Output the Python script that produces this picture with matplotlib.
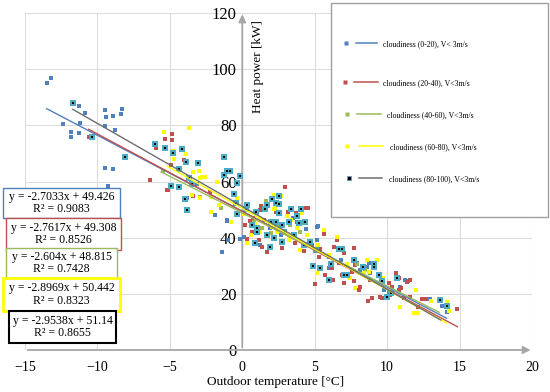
import matplotlib.pyplot as plt
import numpy as np
from matplotlib.lines import Line2D
from matplotlib.patches import Rectangle

# series: outdoor temperature [°C] vs heat power [kW]
blue_x = [-13.46, -13.2, -11.27, -10.88, -12.4, -11.2, -11.8, -11.8, -11.27, -9.5, -9.4, -8.9,
          -8.4, -8.3, -9.5, -8.8, -9.5, -8.9, -9.3, -3.8, -1.87, -1.06, -3.13, -1.06, -1.0,
          -1.38, -0.19, 0.09, 5.16, 1.89, 1.24, 5.23, 5.16, 5.97, 8.11, 8.62, 5.97, 8.8, 8.73,
          7.93, 9.77, 12.93, 14.15, 13.8, 11.46, 2.7, 3.5, 4.4, 6.8, 10.9, 11.2, 12.5, 2.2]
blue_y = [95.1, 97.0, 86.8, 84.5, 80.3, 80.9, 77.7, 75.7, 77.3, 85.6, 83.0, 83.4,
          84.2, 85.7, 79.7, 78.3, 64.9, 64.6, 58.4, 54.0, 48.0, 46.3, 59.1, 45.9, 39.1,
          34.8, 39.7, 40.3, 43.9, 43.5, 37.4, 44.2, 39.1, 33.2, 28.5, 29.6, 29.1, 27.5, 31.1,
          31.1, 21.4, 18.0, 13.6, 15.7, 24.7, 41.0, 47.0, 43.0, 32.0, 22.5, 25.0, 18.2, 44.0]

red_x = [-10.6, -4.84, -4.84, -5.35, -5.95, -6.36, -5.1, -4.93, -4.0, -2.26, -3.4, -5.17,
         -3.37, 2.93, 4.52, 3.16, 1.31, 3.71, 1.47, 2.35, 3.78, 1.24, 0.74, 0.67, 1.13, 1.36,
         1.71, 0.32, 2.74, 3.67, 4.29, 4.82, 5.62, 6.32, 7.7, 7.0, 6.66, 6.2, 5.74, 6.27, 7.0,
         7.7, 8.11, 8.8, 5.05, 7.59, 6.9, 7.8, 5.28, 10.58, 10.8, 10.1, 10.35, 11.39, 11.6,
         10.93, 10.12, 8.97, 9.66, 11.6, 12.4, 12.7, 10.8, 11.15, 10.18, 8.67, 14.85, 12.15,
         4.24, 6.55, 5.39, 8.04, 9.54, 0.2, 0.5]
red_y = [76.0, 76.9, 74.7, 75.0, 72.0, 60.5, 56.9, 65.8, 67.6, 56.3, 54.8, 56.9,
         55.0, 57.9, 50.6, 49.0, 51.2, 48.9, 46.3, 49.0, 45.7, 49.8, 47.1, 42.1, 39.1, 36.8,
         35.0, 39.7, 36.2, 38.0, 35.2, 37.4, 41.3, 36.8, 36.2, 34.4, 31.1, 29.1, 26.7, 24.9, 23.7,
         24.6, 22.5, 24.9, 23.4, 27.9, 26.7, 30.2, 33.2, 27.3, 25.5, 23.7, 22.5, 24.3, 24.9,
         22.0, 20.8, 18.4, 18.4, 18.7, 18.0, 18.0, 21.4, 18.4, 19.6, 17.5, 14.5, 15.4,
         50.6, 39.1, 35.9, 21.4, 19.0, 44.5, 46.0]

green_x = [-5.5, -2.95, 1.36, 2.51, 3.32, 1.66, 0.78, 7.93, 2.0, 4.0, -1.5, 8.5]
green_y = [63.7, 54.6, 43.5, 44.5, 44.5, 53.0, 45.7, 30.5, 41.5, 42.0, 50.5, 28.5]

yellow_x = [-5.4, -3.67, -4.8, -4.68, -3.87, -3.37, -2.97, -2.95, -2.77, -2.56, -1.75, -2.95,
            -2.16, -1.64, -0.37, -3.48, -2.16, 2.67, 1.59, 2.17, 3.09, 3.37, 4.13, 1.24, 2.28,
            2.17, 3.78, 0.6, 0.32, 1.24, 2.4, 3.2, 3.32, 2.05, 4.47, 5.2, 4.01, 5.62, 6.55, 5.16,
            8.62, 9.31, 8.73, 9.7, 7.47, 7.81, 8.39, 11.96, 14.11, 11.85, 12.15, 10.86, 0.1,
            -0.8, 0.9, 6.0, 7.2, 13.0, 14.3]
yellow_y = [77.5, 79.2, 70.9, 67.9, 69.8, 63.3, 63.9, 61.1, 61.5, 61.6, 59.9, 54.3,
            49.0, 51.6, 54.0, 55.2, 54.6, 54.9, 51.2, 50.1, 47.7, 46.3, 48.9, 46.9, 50.4,
            55.2, 43.5, 40.9, 38.0, 42.1, 42.1, 39.1, 40.3, 43.9, 40.9, 37.4, 35.6, 42.7, 40.3, 27.3,
            32.0, 32.0, 27.9, 25.7, 25.5, 22.0, 27.3, 21.4, 17.0, 13.0, 13.3, 15.4, 48.5,
            45.5, 44.8, 34.0, 30.5, 17.5, 14.0]

teal_x = [-11.7, -10.4, -8.07, -6.06, -5.35, -4.77, -4.17, -3.9, -3.04, -4.34, -1.27, -1.08,
          -0.85, -1.29, -0.35, -4.9, -4.34, -3.67, -3.44, -3.8, -0.6, -0.37, 0.28, -3.94, -0.14,
          -0.41, 2.51, 2.05, 2.33, 2.56, 4.08, 3.39, 1.59, 0.95, 2.56, 3.78, 3.89, 1.71, 0.32,
          0.67, 1.02, 1.02, 1.98, 2.35, 2.74, 3.2, 4.36, 2.86, 3.55, 1.71, 2.17, 2.74, 4.7, 0.9,
          1.89, 4.24, 5.12, 6.66, 6.9, 6.09, 5.39, 7.0, 7.24, 9.08, 9.08, 8.35, 6.02, 7.7, 9.43,
          4.89, 10.65, 9.66, 10.24, 10.0, 13.65, 14.11]
teal_y = [87.9, 75.7, 68.9, 73.2, 71.8, 70.2, 71.5, 66.8, 66.7, 64.4, 68.8, 63.9,
          63.9, 62.2, 59.5, 58.4, 58.1, 61.1, 59.1, 49.8, 55.4, 48.6, 50.1, 53.9, 62.0,
          52.2, 54.9, 53.6, 52.4, 52.0, 50.1, 50.1, 50.1, 49.2, 48.9, 47.7, 45.4, 51.6, 51.6,
          44.5, 43.5, 42.1, 45.7, 45.7, 44.5, 45.7, 45.7, 42.1, 40.9, 40.9, 40.0, 38.3, 38.5, 38.0,
          36.8, 37.4, 35.6, 35.9, 35.9, 30.5, 29.1, 26.7, 26.7, 30.8, 29.6, 29.6, 24.9, 32.0, 26.7,
          30.0, 25.5, 24.7, 20.2, 19.0, 17.8, 15.7]

# Excel trend lines: slope, intercept, R², drawn x range
slopes = [-2.7033, -2.7617, -2.604, -2.8969, -2.9538]
intercepts = [49.426, 49.308, 48.815, 50.442, 51.14]
r2 = [0.9083, 0.8526, 0.7428, 0.8323, 0.8655]
fit_from = [-13.5, -10.6, -5.6, -5.2, -11.7]
fit_to = [14.1, 14.85, 13.6, 14.1, 13.7]

labels = ["cloudiness (0-20), V< 3m/s", "cloudiness (20-40), V<3m/s",
          "cloudiness (40-60), V<3m/s", "cloudiness (60-80), V<3m/s",
          "cloudiness (80-100), V<3m/s"]
colors = ["#4F81BD", "#C0504D", "#9BBB59", "#FFFF00", "#4BACC6"]
line_colors = ["#4F81BD", "#C0504D", "#9BBB59", "#FFFF00", "#6E6E6E"]
box_colors = ["#4F81BD", "#C0504D", "#9BBB59", "#FFFF00", "#000000"]

W, H = 550, 392
plt.rcParams["font.family"] = ["Liberation Serif", "DejaVu Serif"]

fig = plt.figure(figsize=(W / 100, H / 100), dpi=100)
ax = fig.add_axes([25 / W, 1 - 350 / H, 507 / W, 337 / H])
ax.set_xlim(-15, 20)
ax.set_ylim(0, 120)
ax.set_xticks(np.arange(-15, 25, 5))
ax.set_yticks(np.arange(0, 140, 20))
ax.grid(color="#DCDCDC", lw=0.8)
ax.set_axisbelow(True)
for s in ax.spines.values():
    s.set_visible(False)
ax.spines["left"].set_position(("data", 0))
ax.tick_params(length=0)
ax.tick_params(axis="x", labelsize=10, pad=8)
ax.tick_params(axis="y", labelsize=12, pad=4)

# axes with arrow heads
arrow = dict(arrowstyle="-|>", color="#A6A6A6", lw=1.3, mutation_scale=11)
ax.annotate("", xy=(0, 120.5), xytext=(0, 0), arrowprops=arrow, annotation_clip=False)
ax.annotate("", xy=(20.1, 0), xytext=(-15, 0), arrowprops=arrow, annotation_clip=False)

# points
series = [(blue_x, blue_y), (red_x, red_y), (green_x, green_y),
          (yellow_x, yellow_y), (teal_x, teal_y)]
sizes = [10, 10, 10, 7, 14]
for (xs, ys), c, sz in zip(series, colors, sizes):
    ax.scatter(xs, ys, s=sz, marker="s", color=c, linewidths=0, zorder=3)
ax.scatter(teal_x, teal_y, s=2.2, marker="s", color="black", linewidths=0, zorder=3)

# trend lines
for m, b, x0, x1, c in zip(slopes, intercepts, fit_from, fit_to, line_colors):
    xx = np.array([x0, x1])
    ax.plot(xx, m * xx + b, color=c, lw=1.0, zorder=4)

fig.text(258 / W, 1 - 67 / H, "Heat power [kW]", rotation=90,
         ha="center", va="center", fontsize=9.5)
fig.text(276 / W, 1 - 382 / H, "Outdoor temperature [°C]",
         ha="center", va="center", fontsize=9.5)

# legend box
fig.add_artist(Rectangle((331 / W, 1 - 217 / H), 217 / W, 214 / H, transform=fig.transFigure,
                         facecolor="white", edgecolor="#A0A0A0", lw=1, zorder=5))
leg_y = [43, 82, 114, 146, 178]
leg_mk = [346, 345, 347, 347, 349]
leg_l0 = [356, 354, 357, 359, 359]
leg_l1 = [377, 378, 381, 383, 382]
leg_tx = [383, 383, 387, 390, 389]
for i in range(5):
    fy = 1 - leg_y[i] / H
    if i == 4:
        mk = Line2D([leg_mk[i] / W], [fy], marker="s", ms=3, mfc="black", mec=colors[i],
                    mew=0.6, ls="none", transform=fig.transFigure, zorder=6)
    else:
        mk = Line2D([leg_mk[i] / W], [fy], marker="s", ms=2.6, mfc=colors[i], mec="none",
                    ls="none", transform=fig.transFigure, zorder=6)
    fig.add_artist(mk)
    fig.add_artist(Line2D([leg_l0[i] / W, leg_l1[i] / W], [fy, fy], color=line_colors[i],
                          lw=1.1, transform=fig.transFigure, zorder=6))
    fig.text(leg_tx[i] / W, fy - 1.5 / H, labels[i], fontsize=5.6, ha="left", va="center",
             zorder=7)

# equation boxes
boxes = [(3, 188, 117, 30), (6, 218, 115, 32), (6, 248, 111, 30), (3, 278, 117, 33), (9, 311, 107, 32)]
box_lw = [1.0, 1.0, 1.0, 2.0, 1.5]
for i, (bx, by, bw, bh) in enumerate(boxes):
    fig.add_artist(Rectangle((bx / W, 1 - (by + bh) / H), bw / W, bh / H, transform=fig.transFigure,
                             facecolor="white", edgecolor=box_colors[i], lw=box_lw[i], zorder=5))
    sign = "+" if intercepts[i] >= 0 else "-"
    txt = f"y = {slopes[i]:g}x {sign} {abs(intercepts[i]):g}\nR² = {r2[i]:g}"
    fig.text((bx + bw / 2) / W, 1 - (by + bh / 2) / H, txt, ha="center", va="center",
             fontsize=8.5, linespacing=1.05, zorder=6)

fig.savefig("out.png", dpi=100)
